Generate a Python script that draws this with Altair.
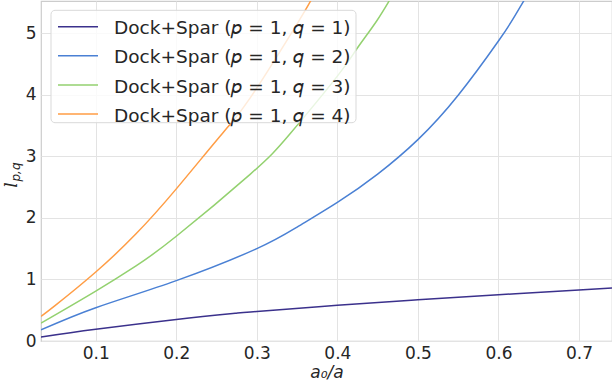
import altair as alt
import pandas as pd

# ---- data ----
x_q1 = [0.032, 0.1, 0.2, 0.273, 0.3, 0.4, 0.5, 0.6, 0.7, 0.741]
y_q1 = [0.065, 0.19, 0.35, 0.45, 0.48, 0.58, 0.67, 0.75, 0.83, 0.86]

x_q2 = [0.032, 0.1, 0.2, 0.3, 0.35, 0.4, 0.45, 0.5, 0.55, 0.6, 0.62, 0.64]
y_q2 = [0.18, 0.54, 0.98, 1.50, 1.85, 2.25, 2.71, 3.27, 3.99, 4.87, 5.27, 5.71]

x_q3 = [0.032, 0.1, 0.15, 0.2, 0.292, 0.341, 0.4, 0.424, 0.449, 0.47]
y_q3 = [0.29, 0.81, 1.22, 1.70, 2.71, 3.36, 4.30, 4.74, 5.20, 5.65]

x_q4 = [0.032, 0.049, 0.1, 0.15, 0.2, 0.2585, 0.292, 0.35, 0.37]
y_q4 = [0.40, 0.57, 1.12, 1.74, 2.47, 3.39, 3.95, 5.15, 5.60]

labels = [
    "Dock+Spar (𝑝 = 1, 𝑞 = 1)",
    "Dock+Spar (𝑝 = 1, 𝑞 = 2)",
    "Dock+Spar (𝑝 = 1, 𝑞 = 3)",
    "Dock+Spar (𝑝 = 1, 𝑞 = 4)",
]
colors = ["#3b318c", "#4a80d4", "#93d16f", "#ff9d45"]

x_ticks = [0.1, 0.2, 0.3, 0.4, 0.5, 0.6, 0.7]
y_ticks = [0, 1, 2, 3, 4, 5]

rows = []
for lab, xs, ys in zip(labels, [x_q1, x_q2, x_q3, x_q4], [y_q1, y_q2, y_q3, y_q4]):
    for a, b in zip(xs, ys):
        rows.append({"a": a, "l": b, "series": lab})
df = pd.DataFrame(rows)
leg_df = pd.DataFrame({"series": labels, "row": list(range(len(labels)))})

FONT = "DejaVu Sans"
TXT = "#262626"
color_scale = alt.Scale(domain=labels, range=colors)

lines = alt.Chart(df).mark_line(clip=True, strokeWidth=1.5, interpolate="natural").encode(
    x=alt.X(
        "a:Q",
        scale=alt.Scale(domain=[0.032, 0.741], nice=False, zero=False),
        axis=alt.Axis(values=x_ticks, format=".1f", title="a₀/a", titleFontStyle="italic",
                      titleFontWeight="normal", titleFontSize=17, titlePadding=3,
                      labelFontSize=17, labelPadding=4, ticks=False, domain=False,
                      labelFlush=False),
    ),
    y=alt.Y(
        "l:Q",
        scale=alt.Scale(domain=[0, 5.52], nice=False),
        axis=alt.Axis(values=y_ticks, format="d", title=None, labelFontSize=17,
                      labelPadding=5, ticks=False, domain=False, labelFlush=False),
    ),
    color=alt.Color("series:N", scale=color_scale, legend=None),
)

# ---- hand-built legend (matplotlib style) ----
leg_box = alt.Chart(pd.DataFrame({"k": [0]})).mark_rect(
    fill="white", fillOpacity=0.8, stroke="#d9d9d9", strokeWidth=1, cornerRadius=4,
).encode(x=alt.value(10), x2=alt.value(315), y=alt.value(9.3), y2=alt.value(121.7))

row_y = alt.Y("row:Q", scale=alt.Scale(domain=[0, 3], range=[25.7, 113]), axis=None)

leg_lines = alt.Chart(leg_df).mark_rule(strokeWidth=1.5).encode(
    x=alt.value(17), x2=alt.value(57), y=row_y,
    color=alt.Color("series:N", scale=color_scale, legend=None),
)

leg_text = alt.Chart(leg_df).mark_text(
    align="left", baseline="alphabetic", dy=7.6, font=FONT, fontSize=18.5, color=TXT,
).encode(x=alt.value(73), y=row_y, text="series:N")

# ---- y-axis title l_{p,q} ----
ytitle_l = alt.Chart(pd.DataFrame({"t": ["l"]})).mark_text(
    angle=270, font="DejaVu Serif", fontStyle="italic", fontSize=17, align="center",
    baseline="alphabetic", color=TXT,
).encode(x=alt.value(-24), y=alt.value(184), text="t:N")

ytitle_sub = alt.Chart(pd.DataFrame({"t": ["p,q"]})).mark_text(
    angle=270, font=FONT, fontStyle="italic", fontSize=12, align="center",
    baseline="alphabetic", color=TXT,
).encode(x=alt.value(-21), y=alt.value(171), text="t:N")

chart = alt.layer(lines, leg_box, leg_lines, leg_text, ytitle_l, ytitle_sub).resolve_scale(
    y="independent"
).properties(
    width=571, height=340,
    autosize=alt.AutoSizeParams(type="none"),
    padding={"left": 41, "top": 1, "right": 0, "bottom": 45},
    background="white",
).configure_view(
    stroke="#cccccc", strokeWidth=1.2
).configure_axis(
    gridColor="#e3e3e3", gridWidth=1, labelFont=FONT, titleFont=FONT,
    labelColor=TXT, titleColor=TXT,
)

chart.save("out.html", embed_options={"renderer": "svg", "actions": False})
